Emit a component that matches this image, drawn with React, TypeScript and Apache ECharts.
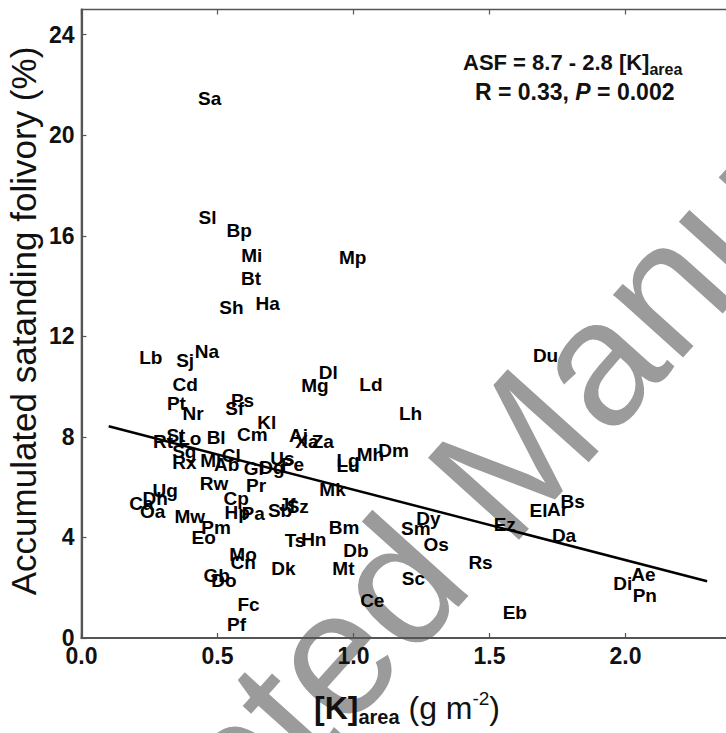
import React, { useEffect, useRef } from "react";
import * as echarts from "echarts";

// Species codes and their [K]area (x) and accumulated standing folivory (y)
const speciesCodes = [
  "Sa", "Sl", "Bp", "Mi", "Mp", "Bt", "Sh", "Ha", "Lb", "Sj", "Na", "Du",
  "Cd", "Dl", "Mg", "Ld", "Pt", "Nr", "Ps", "Sf", "Lh", "Kl", "Bl", "Cm",
  "Aj", "Xa", "Za", "Rt", "St", "Lo", "Sg", "Rx", "Ml", "Cl", "Ab", "Gl",
  "Dg", "Us", "Pe", "Lg", "Lu", "Mh", "Dm", "Mk", "Rw", "Pr", "Ug", "Dh",
  "Ca", "Oa", "Cp", "Hp", "Pa", "Mw", "Jf", "Sz", "Sb", "Pm", "Eo", "Bm",
  "Ts", "Hn", "Dy", "Sm", "Os", "Db", "Mo", "Cn", "Dk", "Mt", "Rs", "Sc",
  "Gb", "Do", "Fc", "Ce", "Pf", "Eb", "El", "Ar", "Bs", "Ez", "Da", "Di",
  "Ae", "Pn"
];
const kArea = [
  0.471, 0.463, 0.580, 0.626, 0.997, 0.623, 0.551, 0.684, 0.255, 0.381, 0.461, 1.706,
  0.381, 0.907, 0.858, 1.064, 0.349, 0.410, 0.592, 0.563, 1.210, 0.681, 0.495, 0.628,
  0.798, 0.829, 0.887, 0.300, 0.347, 0.398, 0.378, 0.378, 0.475, 0.551, 0.534, 0.633,
  0.700, 0.739, 0.776, 0.980, 0.980, 1.062, 1.147, 0.923, 0.487, 0.642, 0.308, 0.271,
  0.220, 0.262, 0.569, 0.572, 0.631, 0.398, 0.756, 0.795, 0.730, 0.495, 0.449, 0.965,
  0.785, 0.854, 1.275, 1.229, 1.304, 1.009, 0.594, 0.594, 0.742, 0.963, 1.467, 1.220,
  0.497, 0.524, 0.614, 1.069, 0.570, 1.593, 1.680, 1.750, 1.806, 1.556, 1.774, 1.990,
  2.066, 2.071
];
const folivory = [
  21.44, 16.74, 16.22, 15.21, 15.15, 14.29, 13.14, 13.31, 11.17, 11.02, 11.39, 11.24,
  10.10, 10.56, 10.05, 10.10, 9.33, 8.94, 9.46, 9.14, 8.94, 8.59, 7.98, 8.11,
  8.07, 7.80, 7.83, 7.80, 8.07, 7.94, 7.43, 6.97, 7.06, 7.24, 6.91, 6.73,
  6.78, 7.15, 6.91, 7.06, 6.88, 7.28, 7.47, 5.90, 6.14, 6.08, 5.86, 5.55,
  5.35, 5.03, 5.53, 4.98, 4.94, 4.85, 5.31, 5.25, 5.07, 4.39, 3.98, 4.39,
  3.89, 3.93, 4.76, 4.35, 3.71, 3.47, 3.32, 3.00, 2.78, 2.78, 3.00, 2.36,
  2.49, 2.27, 1.35, 1.49, 0.55, 1.01, 5.07, 5.12, 5.44, 4.52, 4.07, 2.18,
  2.54, 1.68
];

// Regression line endpoints (ASF = 8.7 - 2.8 [K]area)
const regressionX = [0.1, 2.3];
const regressionY = [8.42, 2.26];

// Axis settings
const xMin = 0;
const xMax = 2.4;
const xInterval = 0.5;
const yMin = 0;
const yMax = 25;
const yInterval = 4;

const FONT = "Arial, 'Liberation Sans', Helvetica, sans-serif";

export default function App() {
  const ref = useRef<HTMLDivElement>(null);

  useEffect(() => {
    if (!ref.current) return;
    const chart = echarts.init(ref.current, undefined, { renderer: "svg" });

    const points = speciesCodes.map((name, i) => ({ name, value: [kArea[i], folivory[i]] }));
    const lineData = regressionX.map((x, i) => [x, regressionY[i]]);

    chart.setOption({
      animation: false,
      backgroundColor: "#ffffff",
      grid: {
        left: 81.5,
        top: 9.5,
        width: 652.8,
        height: 628.5,
        show: true,
        borderColor: "#555",
        borderWidth: 1.5,
        backgroundColor: "transparent",
      },
      xAxis: [
        {
          type: "value",
          min: xMin,
          max: xMax,
          interval: xInterval,
          position: "bottom",
          axisLine: { show: true, lineStyle: { color: "#555", width: 2.2 } },
          axisTick: { show: true, inside: true, length: 5, lineStyle: { color: "#555", width: 1.2 } },
          splitLine: { show: false },
          axisLabel: {
            show: true,
            margin: 6,
            showMaxLabel: false,
            formatter: (v: number) => v.toFixed(1),
            fontFamily: FONT,
            fontWeight: "bold",
            fontSize: 23,
            color: "#111",
          },
        },
        {
          type: "value",
          min: xMin,
          max: xMax,
          interval: xInterval,
          position: "top",
          axisLine: { show: false },
          axisTick: { show: true, inside: true, length: 5, lineStyle: { color: "#555", width: 1.2 } },
          splitLine: { show: false },
          axisLabel: { show: false },
        },
      ],
      yAxis: {
        type: "value",
        min: yMin,
        max: yMax,
        interval: yInterval,
        axisLine: { show: true, lineStyle: { color: "#555", width: 2.2 } },
        axisTick: { show: true, inside: true, length: 5, lineStyle: { color: "#555", width: 1.2 } },
        splitLine: { show: false },
        axisLabel: {
          show: true,
          margin: 7,
          showMaxLabel: false,
          fontFamily: FONT,
          fontWeight: "bold",
          fontSize: 23,
          color: "#111",
        },
      },
      graphic: [
        {
          type: "text",
          z: -10,
          x: 490,
          y: 480,
          rotation: (48 * Math.PI) / 180,
          style: {
            text: "Accepted Manuscript",
            font: "normal 178px Arial, 'Liberation Sans', sans-serif",
            fill: "#9b9b9b",
            textAlign: "center",
            textVerticalAlign: "middle",
          },
        },
        {
          type: "text",
          z: 10,
          x: 463,
          y: 62,
          style: {
            text: "{m|ASF = 8.7 - 2.8 [K]}{s|area}",
            textAlign: "left",
            textVerticalAlign: "middle",
            fill: "#111",
            rich: {
              m: { fontFamily: FONT, fontWeight: "bold", fontSize: 22, lineHeight: 30, fill: "#111" },
              s: { fontFamily: FONT, fontWeight: "bold", fontSize: 16, lineHeight: 16, verticalAlign: "bottom", fill: "#111" },
            },
          },
        },
        {
          type: "text",
          z: 10,
          x: 475,
          y: 92,
          style: {
            text: "{m|R = 0.33, }{i|P}{m| = 0.002}",
            textAlign: "left",
            textVerticalAlign: "middle",
            fill: "#111",
            rich: {
              m: { fontFamily: FONT, fontWeight: "bold", fontSize: 23, fill: "#111" },
              i: { fontFamily: FONT, fontWeight: "bold", fontStyle: "italic", fontSize: 23, fill: "#111" },
            },
          },
        },
        {
          type: "text",
          z: 10,
          x: 23,
          y: 321,
          rotation: Math.PI / 2,
          style: {
            text: "Accumulated satanding folivory (%)",
            font: "normal 35px Arial, 'Liberation Sans', sans-serif",
            fill: "#111",
            textAlign: "center",
            textVerticalAlign: "middle",
          },
        },
        {
          type: "text",
          z: 10,
          x: 407,
          y: 708,
          style: {
            text: "{b|[K]}{s|area}{n| (g m}{p|-2}{n|)}",
            textAlign: "center",
            textVerticalAlign: "middle",
            fill: "#111",
            rich: {
              b: { fontFamily: FONT, fontWeight: "bold", fontSize: 32, lineHeight: 38, fill: "#111" },
              s: { fontFamily: FONT, fontWeight: "bold", fontSize: 20, lineHeight: 20, verticalAlign: "bottom", fill: "#111" },
              n: { fontFamily: FONT, fontWeight: "normal", fontSize: 32, lineHeight: 38, fill: "#111" },
              p: { fontFamily: FONT, fontWeight: "normal", fontSize: 19, lineHeight: 19, verticalAlign: "top", fill: "#111" },
            },
          },
        },
      ],
      series: [
        {
          type: "line",
          data: lineData,
          xAxisIndex: 0,
          showSymbol: false,
          symbol: "none",
          lineStyle: { color: "#000", width: 2.5 },
          z: 3,
          silent: true,
        },
        {
          type: "scatter",
          data: points,
          xAxisIndex: 0,
          symbolSize: 1,
          itemStyle: { color: "rgba(0,0,0,0)" },
          z: 4,
          label: {
            show: true,
            position: "inside",
            formatter: "{b}",
            fontFamily: FONT,
            fontWeight: "bold",
            fontSize: 19,
            color: "#000",
            textBorderWidth: 0,
            textBorderColor: "transparent",
            opacity: 1,
          },
          labelLayout: { hideOverlap: false },
        },
      ],
    });

    return () => chart.dispose();
  }, []);

  return (
    <div style={{ position: "fixed", left: 0, top: 0, width: 726, height: 733, overflow: "hidden", background: "#fff" }}>
      <div ref={ref} style={{ width: 760, height: 733 }} />
    </div>
  );
}
